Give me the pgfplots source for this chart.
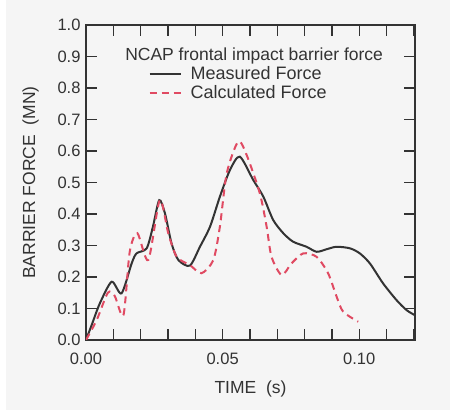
\documentclass[border=0pt]{standalone}
\usepackage{pgfplots}
\pgfplotsset{compat=1.18}
\usepackage{fontspec}
\setmainfont{Liberation Sans}
\definecolor{bg}{HTML}{F5F5F5}
\definecolor{ink}{HTML}{333333}
\definecolor{calc}{HTML}{E04A62}

\begin{document}
\begin{tikzpicture}[x=1pt,y=1pt]
  % page background (white strip at left and bottom, as in the scan)
  \fill[white] (-86,-71) rectangle (364,340);
  \fill[bg] (-80,-70) rectangle (364,340);
  \begin{axis}[
    at={(0,0)},anchor=south west,
    scale only axis,width=329pt,height=315pt,
    xmin=0,xmax=0.1204,ymin=0,ymax=1.0,
    xtick={0,0.01,...,0.12},
    xticklabels={0.00,,,,,0.05,,,,,0.10,,},
    ytick={0,0.1,...,1.0},
    yticklabels={0.0,0.1,0.2,0.3,0.4,0.5,0.6,0.7,0.8,0.9,1.0},
    tick align=inside,major tick length=11pt,
    tick style={ink,line width=1.4pt},
    axis line style={ink,line width=1.6pt},
    scaled x ticks=false,
    every tick label/.style={font=\fontsize{16.5}{19}\selectfont,text=ink},
    /pgf/number format/assume math mode=true,
    xticklabel style={yshift=-9pt},
    yticklabel style={xshift=-2pt},
    xlabel={TIME\ \ (s)},ylabel={BARRIER FORCE\ \ (MN)},
    label style={font=\fontsize{17.5}{20}\selectfont,text=ink},
    xlabel style={yshift=-10pt},
    ylabel style={yshift=12pt},
    axis background/.style={fill=bg},
    legend style={at={(rel axis cs:0.19,0.874)},anchor=north west,
      draw=none,fill=none,font=\fontsize{18}{21}\selectfont,text=ink,
      inner sep=0pt,row sep=0pt,
      nodes={inner xsep=9pt}},
    legend cell align=left,
    legend image code/.code={\draw[#1] (0pt,0pt) -- (31pt,0pt);},
  ]
    \addplot[ink,line width=2pt,smooth,tension=0.45] coordinates {
      (0,0) (0.0021,0.048) (0.0051,0.117) (0.0094,0.185) (0.0130,0.148)
      (0.0167,0.243) (0.0185,0.275) (0.0222,0.291) (0.0245,0.36)
      (0.0268,0.444) (0.0289,0.402) (0.0313,0.307) (0.0338,0.254)
      (0.0380,0.236) (0.0417,0.296) (0.0454,0.360) (0.0490,0.455)
      (0.0527,0.540) (0.0563,0.582) (0.0612,0.508) (0.0649,0.455)
      (0.0685,0.381) (0.0722,0.339) (0.0758,0.312) (0.0807,0.296)
      (0.0844,0.280) (0.0880,0.288) (0.0917,0.296) (0.0966,0.291)
      (0.1002,0.275) (0.1039,0.243) (0.1087,0.180) (0.1136,0.127)
      (0.1173,0.095) (0.1203,0.079)
    };
    \addplot[calc,line width=2pt,dash pattern=on 7pt off 5pt,smooth,tension=0.45] coordinates {
      (0,0) (0.0039,0.063) (0.0080,0.150) (0.0105,0.140) (0.0137,0.079)
      (0.0160,0.280) (0.0188,0.339) (0.0228,0.254) (0.0270,0.444)
      (0.0301,0.339) (0.0332,0.264) (0.0380,0.238) (0.0423,0.212)
      (0.0466,0.254) (0.0490,0.360) (0.0515,0.529) (0.0557,0.630)
      (0.0588,0.587) (0.0636,0.466) (0.0661,0.360) (0.0679,0.264)
      (0.0716,0.206) (0.0752,0.243) (0.0795,0.275) (0.0844,0.264)
      (0.0886,0.212) (0.0917,0.138) (0.0941,0.090) (0.0996,0.058)
    };
    \legend{Measured Force,Calculated Force}
    \node[font=\fontsize{17.5}{20}\selectfont,text=ink]
      at (rel axis cs:0.511,0.902) {NCAP frontal impact barrier force};
  \end{axis}
\end{tikzpicture}
\end{document}
